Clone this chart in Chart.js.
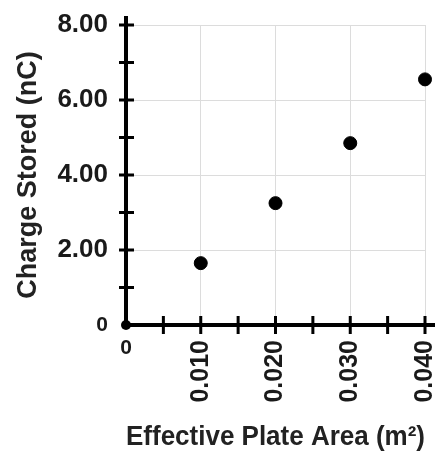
<!DOCTYPE html>
<html>
<head>
<meta charset="utf-8">
<script src="https://cdn.jsdelivr.net/npm/chart.js@4/dist/chart.umd.min.js"></script>
<style>
  html, body { margin: 0; padding: 0; background: #fff; }
  #chart { display: block; }
</style>
</head>
<body>
<canvas id="chart" width="435" height="454"></canvas>
<script>
// data
const plateArea = [0.010, 0.020, 0.030, 0.040];       // m^2
const chargeStored = [1.65, 3.25, 4.85, 6.55];         // nC

// tick labels
const yLabelValues = [0, 2, 4, 6, 8];
const xLabelValues = [0.010, 0.020, 0.030, 0.040];

const FONT = "'Liberation Sans', Arial, sans-serif";
const GRID = '#dcdcdc';
const INK = '#1a1a1a';

const isYLabel = (v) => yLabelValues.some(l => Math.abs(l - v) < 1e-9);
const isXLabel = (v) => xLabelValues.some(l => Math.abs(l - v) < 1e-9);

// thick axes with ticks crossing them, origin dot, and the unrotated "0" under the x axis
const crossAxes = {
    id: 'crossAxes',
    afterDraw(chart) {
        const { ctx, chartArea: area, scales: { x, y } } = chart;
        const x0 = x.getPixelForValue(0);
        const y0 = y.getPixelForValue(0);
        ctx.save();
        ctx.strokeStyle = '#000';
        ctx.lineCap = 'butt';

        ctx.lineWidth = 4;
        ctx.beginPath();
        ctx.moveTo(x0, area.top - 9);
        ctx.lineTo(x0, y0);
        ctx.lineTo(area.right + 12, y0);
        ctx.stroke();

        ctx.lineWidth = 3;
        ctx.beginPath();
        y.ticks.forEach(t => {
            if (t.value === 0) return;
            const py = y.getPixelForValue(t.value);
            ctx.moveTo(x0 - 7, py);
            ctx.lineTo(x0 + 8, py);
        });
        x.ticks.forEach(t => {
            if (t.value === 0) return;
            const px = x.getPixelForValue(t.value);
            ctx.moveTo(px, y0 - 9);
            ctx.lineTo(px, y0 + 9);
        });
        ctx.stroke();

        ctx.fillStyle = '#000';
        ctx.beginPath();
        ctx.arc(x0, y0, 5, 0, Math.PI * 2);
        ctx.fill();

        ctx.fillStyle = INK;
        ctx.font = 'bold 21px ' + FONT;
        ctx.textAlign = 'center';
        ctx.textBaseline = 'middle';
        ctx.fillText('0', x0, y0 + 23);
        ctx.restore();
    }
};

new Chart(document.getElementById('chart'), {
    type: 'scatter',
    data: {
        datasets: [{
            data: plateArea.map((a, i) => ({ x: a, y: chargeStored[i] })),
            backgroundColor: '#000',
            borderColor: '#000',
            pointRadius: 6.5,
            pointHoverRadius: 6.5,
            clip: false
        }]
    },
    options: {
        responsive: false,
        animation: false,
        events: [],
        layout: { padding: { top: 25, right: 10, left: 0, bottom: 0 } },
        plugins: {
            legend: { display: false },
            tooltip: { enabled: false }
        },
        scales: {
            x: {
                type: 'linear',
                min: 0,
                max: 0.04,
                border: { display: false },
                grid: {
                    drawTicks: false,
                    color: (c) => (c.tick && c.tick.value !== 0 && isXLabel(c.tick.value)) ? GRID : 'rgba(0,0,0,0)'
                },
                ticks: {
                    stepSize: 0.005,
                    autoSkip: false,
                    minRotation: 90,
                    maxRotation: 90,
                    padding: 15,
                    color: INK,
                    font: { family: FONT, size: 25, weight: 'bold' },
                    callback: (v) => (v !== 0 && isXLabel(v)) ? Number(v).toFixed(3) : ''
                },
                title: {
                    display: true,
                    text: 'Effective Plate Area (m²)',
                    color: '#222',
                    font: { family: FONT, size: 27, weight: 'bold', lineHeight: 1.2 },
                    padding: { top: 0, bottom: 0 }
                },
                afterFit: (s) => { s.height = 129; s.paddingLeft = 0; s.paddingRight = 0; }
            },
            y: {
                min: 0,
                max: 8,
                border: { display: false },
                grid: {
                    drawTicks: false,
                    color: (c) => (c.tick && c.tick.value !== 0 && isYLabel(c.tick.value)) ? GRID : 'rgba(0,0,0,0)'
                },
                ticks: {
                    stepSize: 1,
                    autoSkip: false,
                    padding: 18,
                    color: INK,
                    font: (c) => ({ family: FONT, size: (c.tick && c.tick.value === 0) ? 21 : 26, weight: 'bold' }),
                    callback: (v) => !isYLabel(v) ? '' : (v === 0 ? '0' : Number(v).toFixed(2))
                },
                title: {
                    display: true,
                    text: 'Charge Stored (nC)',
                    color: '#222',
                    font: { family: FONT, size: 27, weight: 'bold', lineHeight: 1.2 },
                    padding: { top: 12, bottom: 0 }
                },
                afterFit: (s) => { s.width = 126; s.paddingTop = 0; s.paddingBottom = 0; }
            }
        }
    },
    plugins: [crossAxes]
});
</script>
</body>
</html>
